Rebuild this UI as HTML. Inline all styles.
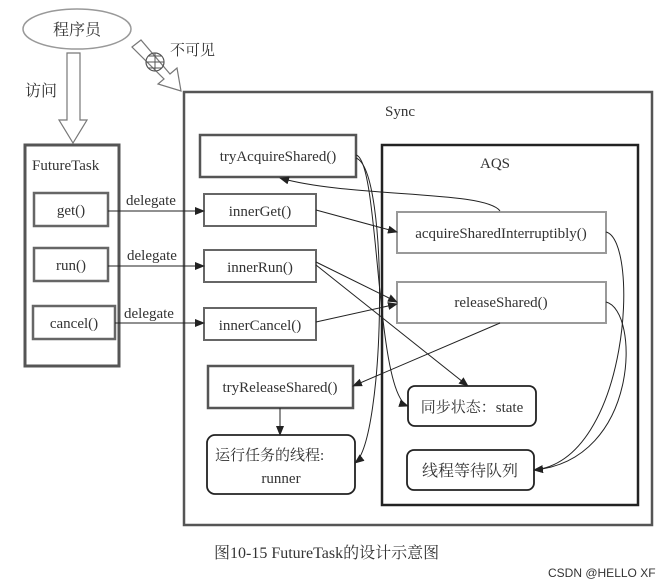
<!DOCTYPE html>
<html><head><meta charset="utf-8"><style>
html,body{margin:0;padding:0;background:#fff;}
svg{display:block;}
text{font-family:"Liberation Serif","Noto Serif CJK SC",serif;fill:#333;}
</style></head><body>
<svg width="665" height="585" viewBox="0 0 665 585" xmlns="http://www.w3.org/2000/svg">
<defs>
<marker id="a" markerWidth="10" markerHeight="8" refX="9" refY="4" orient="auto" markerUnits="userSpaceOnUse">
<path d="M0,0 L10,4 L0,8 z" fill="#222"/></marker>
</defs>
<ellipse cx="77" cy="29" rx="54" ry="20" fill="#fff" stroke="#999" stroke-width="1.5"/>
<text x="77" y="35" font-size="16" text-anchor="middle">程序员</text>
<path d="M67,53 L80,53 L80,120 L87,120 L73,143 L59,120 L67,120 Z" fill="#fff" stroke="#777" stroke-width="1.2"/>
<text x="25" y="96" font-size="16">访问</text>
<path d="M132,47 L141,40 L170,74 L177,68 L181,91 L158,84 L164,79 Z" fill="#fff" stroke="#777" stroke-width="1.2"/>
<circle cx="155" cy="62" r="9" fill="none" stroke="#555" stroke-width="1.2"/>
<line x1="146" y1="62" x2="164" y2="62" stroke="#555"/><line x1="155" y1="53" x2="155" y2="71" stroke="#555"/>
<line x1="148" y1="56" x2="162" y2="56" stroke="#555"/><line x1="148" y1="68" x2="162" y2="68" stroke="#555"/>
<text x="170" y="55" font-size="15">不可见</text>
<rect x="25" y="145" width="94" height="221" fill="none" stroke="#555" stroke-width="3"/>
<text x="32" y="170" font-size="15">FutureTask</text>
<rect x="34" y="193" width="74" height="33" fill="none" stroke="#666" stroke-width="2.5"/>
<text x="71" y="215" font-size="15" text-anchor="middle">get()</text>
<rect x="34" y="248" width="74" height="33" fill="none" stroke="#666" stroke-width="2.5"/>
<text x="71" y="270" font-size="15" text-anchor="middle">run()</text>
<rect x="33" y="306" width="82" height="33" fill="none" stroke="#666" stroke-width="2.5"/>
<text x="74" y="328" font-size="15" text-anchor="middle">cancel()</text>
<rect x="184" y="92" width="468" height="433" fill="none" stroke="#555" stroke-width="2.5"/>
<text x="400" y="116" font-size="15" text-anchor="middle">Sync</text>
<rect x="200" y="135" width="156" height="42" fill="none" stroke="#555" stroke-width="2.5"/>
<text x="278" y="161" font-size="15" text-anchor="middle">tryAcquireShared()</text>
<rect x="204" y="194" width="112" height="32" fill="none" stroke="#666" stroke-width="2"/>
<text x="260" y="216" font-size="15" text-anchor="middle">innerGet()</text>
<rect x="204" y="250" width="112" height="32" fill="none" stroke="#666" stroke-width="2"/>
<text x="260" y="272" font-size="15" text-anchor="middle">innerRun()</text>
<rect x="204" y="308" width="112" height="32" fill="none" stroke="#666" stroke-width="2"/>
<text x="260" y="330" font-size="15" text-anchor="middle">innerCancel()</text>
<rect x="208" y="366" width="145" height="42" fill="none" stroke="#555" stroke-width="2.5"/>
<text x="280" y="392" font-size="15" text-anchor="middle">tryReleaseShared()</text>
<rect x="207" y="435" width="148" height="59" rx="8" fill="none" stroke="#222" stroke-width="1.8"/>
<text x="215" y="460" font-size="15">运行任务的线程:</text>
<text x="281" y="483" font-size="15" text-anchor="middle">runner</text>
<rect x="382" y="145" width="256" height="360" fill="none" stroke="#222" stroke-width="2.5"/>
<text x="495" y="168" font-size="15" text-anchor="middle">AQS</text>
<rect x="397" y="212" width="209" height="41" fill="none" stroke="#999" stroke-width="2"/>
<text x="501" y="238" font-size="15" text-anchor="middle">acquireSharedInterruptibly()</text>
<rect x="397" y="282" width="209" height="41" fill="none" stroke="#999" stroke-width="2"/>
<text x="501" y="307" font-size="15" text-anchor="middle">releaseShared()</text>
<rect x="408" y="386" width="128" height="40" rx="7" fill="none" stroke="#222" stroke-width="1.8"/>
<text x="472" y="412" font-size="15" text-anchor="middle">同步状态：state</text>
<rect x="407" y="450" width="127" height="40" rx="7" fill="none" stroke="#222" stroke-width="1.8"/>
<text x="470" y="476" font-size="16" text-anchor="middle">线程等待队列</text>
<g stroke="#222" stroke-width="1" fill="none">
<line x1="108" y1="211" x2="204" y2="211" marker-end="url(#a)"/>
<line x1="108" y1="266" x2="204" y2="266" marker-end="url(#a)"/>
<line x1="115" y1="323" x2="204" y2="323" marker-end="url(#a)"/>
<path d="M316,210 L397,232" marker-end="url(#a)"/>
<path d="M500,211 C485,190 350,198 280,178" marker-end="url(#a)"/>
<path d="M316,262 L397,302" marker-end="url(#a)"/>
<path d="M316,265 L468,386" marker-end="url(#a)"/>
<path d="M316,322 L397,304" marker-end="url(#a)"/>
<path d="M500,323 L353,386" marker-end="url(#a)"/>
<path d="M356,155 C380,160 375,395 408,406" marker-end="url(#a)"/>
<path d="M356,158 C390,170 385,440 355,463" marker-end="url(#a)"/>
<line x1="280" y1="408" x2="280" y2="435" marker-end="url(#a)"/>
<path d="M606,232 C640,240 630,460 534,470" marker-end="url(#a)"/>
<path d="M606,302 C640,310 640,460 534,470" marker-end="url(#a)"/>
</g>
<text x="126" y="205" font-size="15">delegate</text>
<text x="127" y="260" font-size="15">delegate</text>
<text x="124" y="318" font-size="15">delegate</text>
<text x="214" y="558" font-size="16">图10-15  FutureTask的设计示意图</text>
<text x="548" y="577" font-size="12" style="font-family:'Liberation Sans',sans-serif" fill="#666">CSDN @HELLO XF</text>
</svg>
</body></html>
